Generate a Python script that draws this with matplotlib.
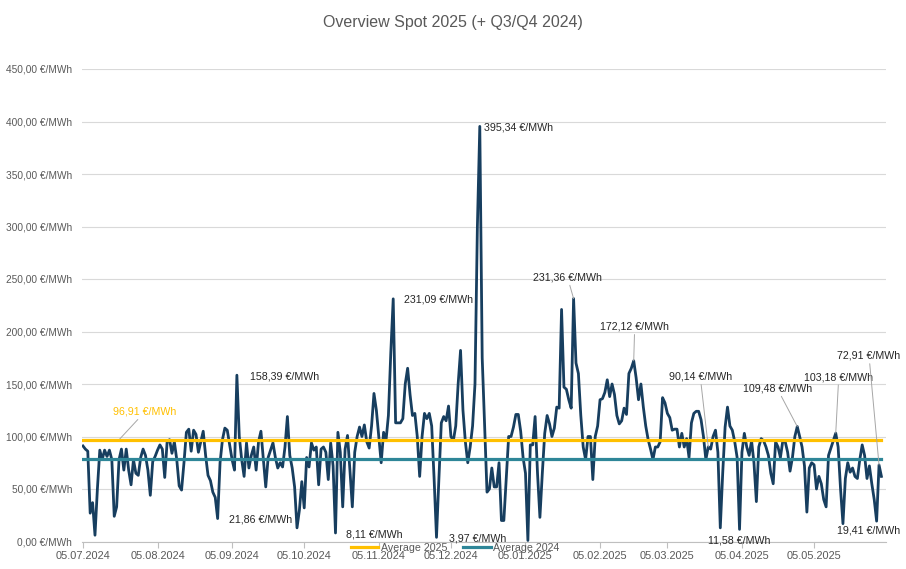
import numpy as np
import pandas as pd
import matplotlib
matplotlib.use('Agg')
import matplotlib.pyplot as plt
import matplotlib.dates as mdates

plt.rcParams['font.family'] = ['Liberation Sans', 'DejaVu Sans']

# daily spot price, starting 05.07.2024 (EUR/MWh)
start_date = '2024-07-05'
spot = [
    91, 88, 86, 27, 37, 6, 50, 87, 78, 87, 81, 87, 78, 24, 33, 78, 88, 68, 88, 68,
    54, 78, 65, 63, 80, 88, 82, 68, 44, 76, 81, 87, 92, 88, 61, 95, 97, 84, 95, 78,
    53, 49, 75, 104, 107, 86, 106, 102, 85, 95, 105, 82, 63, 58, 47, 42, 21.86, 75, 97, 108,
    106, 92, 78, 68, 158.39, 100, 78, 62, 94, 70, 82, 90, 68, 95, 105, 78, 52, 80, 87, 94,
    80, 70, 75, 71, 90, 119, 82, 70, 52, 13, 30, 57, 32, 80, 71, 94, 87, 90, 54, 88,
    90, 85, 59, 94, 72, 8.11, 104, 85, 33, 88, 101, 68, 33, 85, 100, 109, 100, 111, 95, 89,
    110, 141, 125, 100, 75, 104, 96, 120, 180, 231.09, 113, 113, 113, 117, 150, 165, 140, 120, 122, 100,
    62, 100, 122, 117, 122, 110, 60, 3.97, 60, 113, 119, 115, 129, 100, 96, 110, 150, 182, 125, 95,
    75, 90, 110, 150, 300, 395.34, 175, 110, 47, 50, 70, 52, 52, 75, 20, 20, 60, 100, 100, 109,
    121, 121, 105, 80, 65, 1, 92, 92, 119, 65, 23, 65, 103, 120, 112, 100, 108, 128, 127, 221,
    147, 145, 135, 127, 231.36, 170, 160, 120, 90, 78, 100, 100, 59, 100, 110, 135, 136, 142, 154, 138,
    150, 140, 120, 112, 115, 127, 121, 160, 165, 172.12, 156, 135, 150, 128, 110, 97, 88, 78, 90, 90,
    95, 137, 132, 122, 118, 106, 107, 107, 90, 103, 90, 98, 80, 113, 122, 124, 124, 116, 100, 78,
    90.14, 88, 100, 106, 85, 13, 65, 109, 128, 110, 106, 95, 80, 11.58, 85, 103, 90, 82, 96, 75,
    38, 90, 98, 96, 90, 82, 65, 55, 95, 90, 80, 96, 95, 85, 67, 80, 100, 109.48, 100, 90,
    72, 28, 70, 75, 73, 50, 62, 55, 40, 33, 82, 89, 96, 103.18, 90, 50, 17, 60, 75, 66,
    70, 62, 60, 78, 92, 82, 60, 72, 55, 40, 19.41, 72.91, 62,
]
avg_2025 = 96.91
avg_2024 = 78.6

# labelled points (index into spot), text offset in pixels, alignment, leader line
label_idx = [64, 56, 105, 129, 147, 165, 204, 229, 260, 273, 297, 313, 331, 330]
label_off = [(13, -1), (11, -1), (11, -2), (11, -1), (12, -1), (4, -1), (-6, 21), (1, 34),
             (-8, 70), (0, -11), (-20, 38), (3, 56), (-10, 109), (-8, -9)]
label_ha = ['left', 'left', 'left', 'left', 'left', 'left', 'center', 'center',
            'center', 'center', 'center', 'center', 'center', 'center']
label_leader = [False, False, False, False, False, False, True, True,
                True, False, True, True, True, False]

dates = pd.date_range(start_date, periods=len(spot), freq='D')
tick_dates = pd.date_range('2024-07-01', periods=11, freq='MS') + pd.Timedelta(days=4)

navy = '#173E5F'
yellow = '#FFC000'
teal = '#2E8698'
grey_txt = '#595959'


def eur(v):
    return f'{v:,.2f}'.replace(',', ' ').replace('.', ',') + ' €/MWh'


fig = plt.figure(figsize=(9.06, 5.69), dpi=100)
ax = fig.add_axes([82 / 906, 1 - 541.5 / 569, (886 - 82) / 906, (541.5 - 69) / 569])

ax.plot(dates, spot, color=navy, lw=2.0, zorder=3, solid_joinstyle='round')
ax.plot(dates, np.full(len(dates), avg_2025), color=yellow, lw=2.3, zorder=4, label='Average 2025')
ax.plot(dates, np.full(len(dates), avg_2024), color=teal, lw=2.3, zorder=4, label='Average 2024')

ax.set_ylim(0, 450)
x0 = mdates.date2num(dates[0])
ax.set_xlim(x0 - 0.4, x0 + 333.9)
ax.set_yticks(np.arange(0, 451, 50))
ax.set_yticklabels([eur(v) for v in np.arange(0, 451, 50)])
ax.set_xticks(tick_dates)
ax.set_xticklabels([d.strftime('%d.%m.%Y') for d in tick_dates])

ax.grid(axis='y', color='#D9D9D9', lw=0.8, zorder=0)
for s in ['top', 'right', 'left']:
    ax.spines[s].set_visible(False)
ax.spines['bottom'].set_color('#BFBFBF')
ax.tick_params(axis='y', length=0, pad=7, labelsize=7.3, labelcolor=grey_txt)
ax.tick_params(axis='x', length=4, color='#BFBFBF', pad=3, labelsize=7.9, labelcolor=grey_txt)

# average label
ax.annotate(eur(avg_2025), xy=(dates[15], avg_2025), xytext=(26, 28), textcoords='offset pixels',
            ha='center', va='center', fontsize=7.7, color=yellow,
            arrowprops=dict(arrowstyle='-', color='#A6A6A6', lw=0.7, shrinkA=0, shrinkB=0))

for i, off, ha, lead in zip(label_idx, label_off, label_ha, label_leader):
    kw = {}
    if lead:
        kw['arrowprops'] = dict(arrowstyle='-', color='#A6A6A6', lw=0.7, shrinkA=0, shrinkB=0)
    ax.annotate(eur(spot[i]), xy=(dates[i], spot[i]), xytext=off, textcoords='offset pixels',
                ha=ha, va='center', fontsize=7.7, color='#262626', zorder=6, **kw)

fig.text(0.5, 1 - 22 / 569, 'Overview Spot 2025 (+ Q3/Q4 2024)', ha='center', va='center',
         fontsize=11.5, color=grey_txt)
fig.legend(loc='center', bbox_to_anchor=(455 / 906, 1 - 548 / 569), ncol=2, frameon=False,
           fontsize=7.7, labelcolor=grey_txt, handlelength=2.6, handletextpad=0.2,
           columnspacing=1.5, borderpad=0, borderaxespad=0)

fig.savefig('out.png', dpi=100)
